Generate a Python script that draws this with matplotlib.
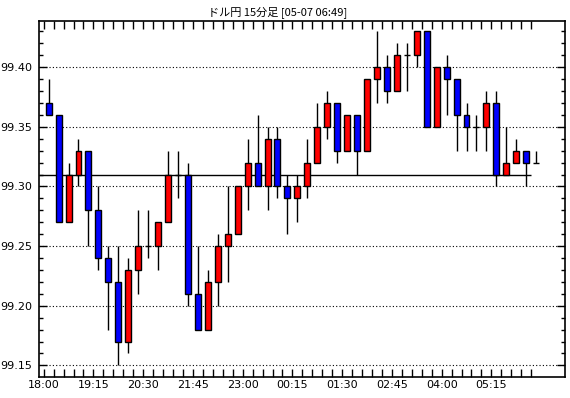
import numpy as np
import matplotlib
matplotlib.use("Agg")
import matplotlib.pyplot as plt
from matplotlib.ticker import MultipleLocator, FixedLocator, NullFormatter

# 15-minute USD/JPY candles
opens = [99.37, 99.36, 99.27, 99.31, 99.33, 99.28, 99.24, 99.22, 99.17, 99.23,
         99.25, 99.25, 99.27, 99.31, 99.31, 99.21, 99.18, 99.22, 99.25, 99.26,
         99.30, 99.32, 99.30, 99.34, 99.30, 99.29, 99.30, 99.32, 99.35, 99.37,
         99.33, 99.36, 99.33, 99.39, 99.40, 99.38, 99.41, 99.41, 99.43, 99.35,
         99.40, 99.39, 99.36, 99.35, 99.35, 99.37, 99.31, 99.32, 99.33, 99.32]
closes = [99.36, 99.27, 99.31, 99.33, 99.28, 99.24, 99.22, 99.17, 99.23, 99.25,
          99.25, 99.27, 99.31, 99.31, 99.21, 99.18, 99.22, 99.25, 99.26, 99.30,
          99.32, 99.30, 99.34, 99.30, 99.29, 99.30, 99.32, 99.35, 99.37, 99.33,
          99.36, 99.33, 99.39, 99.40, 99.38, 99.41, 99.41, 99.43, 99.35, 99.40,
          99.39, 99.36, 99.35, 99.35, 99.37, 99.31, 99.32, 99.33, 99.32, 99.32]
highs = [99.39, 99.36, 99.32, 99.34, 99.33, 99.30, 99.25, 99.25, 99.24, 99.28,
         99.28, 99.27, 99.33, 99.33, 99.32, 99.25, 99.23, 99.26, 99.30, 99.30,
         99.34, 99.36, 99.35, 99.35, 99.31, 99.31, 99.34, 99.37, 99.38, 99.37,
         99.36, 99.36, 99.39, 99.43, 99.41, 99.42, 99.42, 99.43, 99.43, 99.40,
         99.41, 99.39, 99.37, 99.36, 99.38, 99.38, 99.35, 99.34, 99.33, 99.33]
lows = [99.36, 99.27, 99.27, 99.30, 99.25, 99.23, 99.18, 99.15, 99.16, 99.21,
        99.24, 99.23, 99.27, 99.29, 99.20, 99.18, 99.18, 99.20, 99.22, 99.26,
        99.28, 99.30, 99.28, 99.29, 99.26, 99.27, 99.29, 99.32, 99.34, 99.32,
        99.33, 99.31, 99.33, 99.37, 99.37, 99.38, 99.38, 99.40, 99.35, 99.35,
        99.36, 99.33, 99.33, 99.33, 99.33, 99.30, 99.31, 99.32, 99.30, 99.32]
time_labels = ["18:00", "19:15", "20:30", "21:45", "23:00",
               "00:15", "01:30", "02:45", "04:00", "05:15"]
ref_price = 99.31
title = "ドル円 15分足 [05-07 06:49]"

W, H = 570, 398
fig = plt.figure(figsize=(W / 100, H / 100), dpi=100)
left, right, top, bottom = 39.5, 565, 20.7, 376.7
ax = fig.add_axes([left / W, 1 - bottom / H, (right - left) / W, (bottom - top) / H])

x = np.arange(len(opens))
o = np.array(opens)
c = np.array(closes)
colors = ["#ff0000" if cc > oo else "#0000ff" for oo, cc in zip(o, c)]

ax.vlines(x, lows, highs, color="black", linewidth=1, zorder=2)
ax.bar(x, np.abs(c - o), bottom=np.minimum(o, c), width=0.6, color=colors,
       edgecolor="black", linewidth=1, zorder=3)

ax.hlines(ref_price, -1, len(opens) - 1.5, color="black", linewidth=1, zorder=1)

ax.set_xlim(-0.92, 51.9)
ax.set_ylim(99.1405, 99.439)

# grid
for yv in np.arange(99.15, 99.41, 0.05):
    ax.axhline(yv, color="black", linewidth=0.8, linestyle=(0, (1, 2)), zorder=0)

tick_font = ["Liberation Sans Narrow", "DejaVu Sans"]

ax.yaxis.set_major_locator(MultipleLocator(0.05))
ax.yaxis.set_minor_locator(MultipleLocator(0.01))
ax.yaxis.set_major_formatter(matplotlib.ticker.FormatStrFormatter("%.2f"))
ax.tick_params(axis="y", which="major", direction="in", length=6, width=1,
               left=True, right=True, labelsize=8, pad=5.5)
ax.tick_params(axis="y", which="minor", direction="in", length=3, width=1,
               left=True, right=True)

ax.xaxis.set_major_locator(FixedLocator(np.arange(0, 50, 5) - 0.5))
ax.xaxis.set_minor_locator(FixedLocator(np.arange(50) - 0.5))
ax.set_xticklabels(time_labels)
ax.xaxis.set_minor_formatter(NullFormatter())
ax.tick_params(axis="x", which="both", direction="in", length=6, width=1,
               top=True, bottom=True, labelsize=8, pad=2.5)

for lab in ax.get_xticklabels() + ax.get_yticklabels():
    lab.set_family(tick_font)

for sp in ax.spines.values():
    sp.set_linewidth(1.2)

fig.text(278 / W, 1 - 12 / H, title, ha="center", va="center", fontsize=8,
         family=["Noto Sans CJK JP", "DejaVu Sans"])

fig.savefig("out.png", dpi=100)
